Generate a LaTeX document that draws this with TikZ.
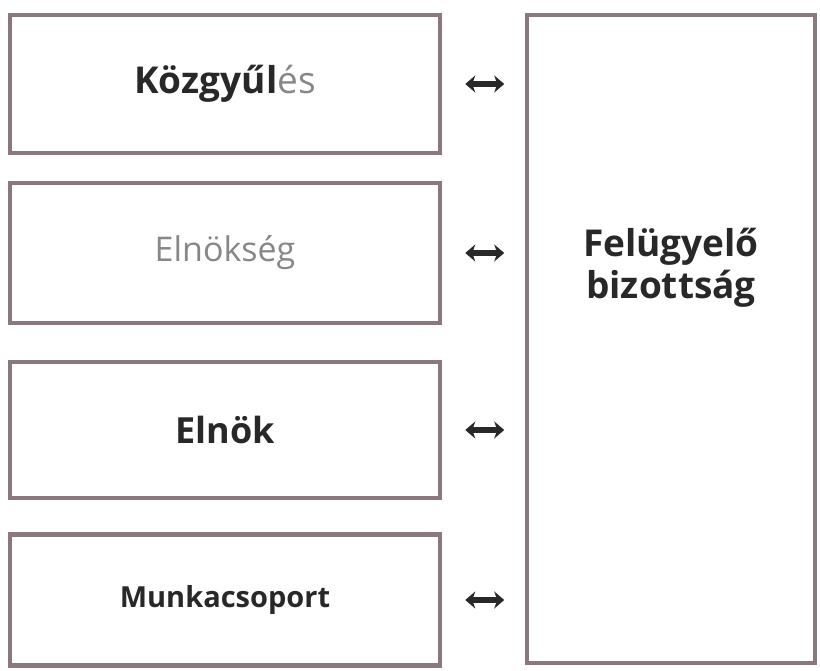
\documentclass[tikz,border=0pt]{standalone}
\usepackage{fontspec}
\setmainfont{Open Sans}
\usetikzlibrary{arrows.meta,calc}
\definecolor{frame}{RGB}{138,120,124}
\definecolor{ink}{RGB}{40,40,40}
\definecolor{faint}{RGB}{135,135,135}

\begin{document}
\begin{tikzpicture}[
  x=1pt, y=1pt,
  unit/.style={draw=frame, line width=4.5pt, fill=white, minimum width=430pt, inner sep=0pt, text=ink},
  board/.style={draw=frame, line width=4.5pt, fill=white, minimum width=288pt, minimum height=648pt, inner sep=0pt},
  big/.style={font=\fontsize{37}{42}\selectfont\bfseries, text=ink},
  link/.style={{Stealth[length=10pt,width=17pt,inset=3pt]}-{Stealth[length=10pt,width=17pt,inset=3pt]}, line width=5.5pt, draw=ink},
]
  \useasboundingbox (0,0) rectangle (820,670);
  % left column
  \node[unit, minimum height=138pt, font=\fontsize{37}{42}\selectfont] (kgy) at (225,586)
       {\textbf{Közgyűl}\textcolor{faint}{és}};
  \node[unit, minimum height=140pt, font=\fontsize{34}{38}\selectfont, text=faint] (eks) at (225,417) {Elnökség};
  \node[unit, minimum height=136pt, font=\fontsize{36}{40}\selectfont\bfseries] (eln) at (225,240) {Elnök};
  \node[unit, minimum height=131pt, font=\fontsize{29}{34}\selectfont\bfseries] (mcs) at (225,70) {Munkacsoport};
  % right column
  \node[board] (fb) at (671,331) {};
  \node[big, align=center] (fbtxt) at ($(fb.center)+(0,71)$) {Felügyelő\\bizottság};
  % links
  \foreach \b in {kgy,eks,eln,mcs}{
    \coordinate (\b l) at ($(\b.east)+(23,0)$);
    \coordinate (\b r) at ($(\b.east)+(62,0)$);
    \draw[link] (\b l) -- (\b r);
  }
\end{tikzpicture}
\end{document}
